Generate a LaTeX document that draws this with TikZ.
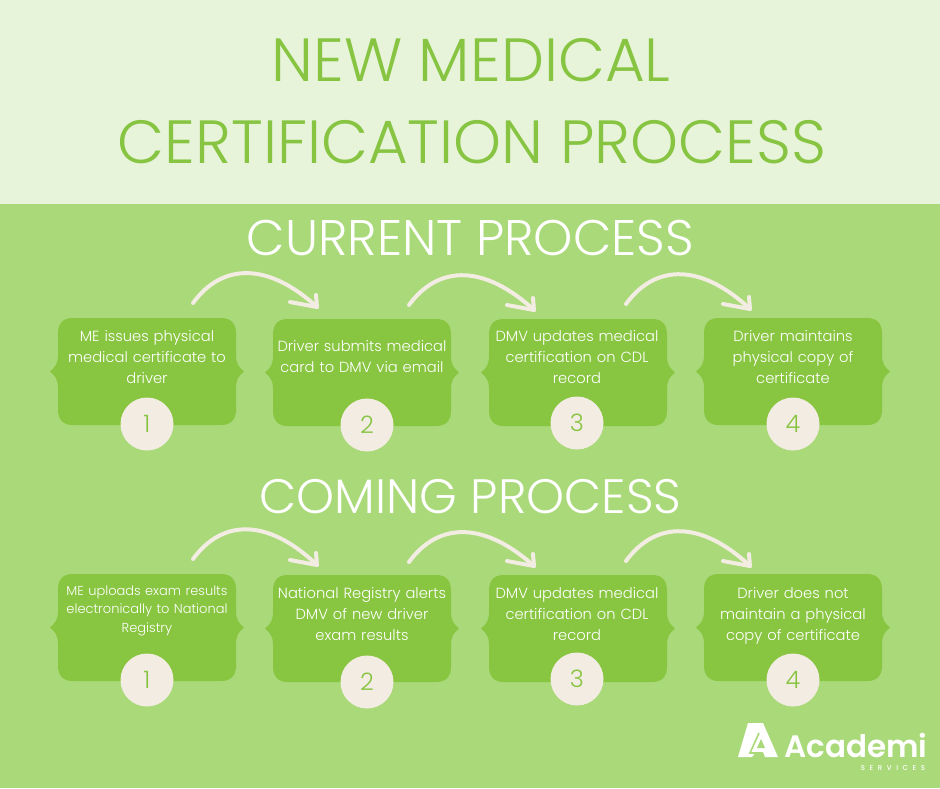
\documentclass[tikz,border=0pt]{standalone}
\usepackage{fontspec}
\setmainfont{Poppins Light}
\newfontfamily\logofont{Poppins SemiBold}
\newfontfamily\logosmall[LetterSpace=65]{Poppins Medium}
\usetikzlibrary{calc}
\definecolor{pale}{HTML}{E7F4D9}
\definecolor{midg}{HTML}{A9D979}
\definecolor{boxg}{HTML}{88C540}
\definecolor{titleg}{HTML}{86C441}
\definecolor{cream}{HTML}{F3ECE2}
\tikzset{
  stepshape/.style={fill=boxg,draw=none},
  steptext/.style={text=white,font=\fontsize{14.7}{21}\selectfont,align=center,text width=176pt,inner sep=0pt},
  numdisc/.style={circle,fill=cream,minimum size=53pt,inner sep=0pt,text=titleg,font=\fontsize{24}{26}\selectfont},
  heading/.style={text=white,inner sep=0pt},
  bigtitle/.style={text=titleg,font=\fontsize{61}{64}\selectfont,inner sep=0pt},
  flow/.style={draw=cream,line width=4pt,line cap=round,line join=round},
}
\newcommand{\stepcard}[6]{%
  \begin{scope}[shift={(#2,#3)}]
    \path[stepshape] (-74,-53.5) -- (74,-53.5)
      .. controls (84,-53.5) and (89,-48) .. (89,-38)
      -- (89,-16) .. controls (89,-8) and (92,-4) .. (97,0)
      .. controls (92,4) and (89,8) .. (89,16)
      -- (89,38) .. controls (89,48) and (84,53.5) .. (74,53.5)
      -- (-74,53.5) .. controls (-84,53.5) and (-89,48) .. (-89,38)
      -- (-89,16) .. controls (-89,8) and (-92,4) .. (-97,0)
      .. controls (-92,-4) and (-89,-8) .. (-89,-16)
      -- (-89,-38) .. controls (-89,-48) and (-84,-53.5) .. (-74,-53.5) -- cycle;
  \end{scope}
  \node[numdisc] (#1) at (#5,#6) {#4};
}
\newcommand{\flowarrow}[2]{%
  \draw[flow] (#1) .. controls ($(#1)+(30,-41)$) and ($(#1)+(76,-40)$) .. (#2);
  \draw[flow] ($(#2)+(-27,-5)$) -- (#2) -- ($(#2)+(-1,-12)$);
}
\begin{document}
\begin{tikzpicture}[x=1pt,y=-1pt]
\useasboundingbox (0,0) rectangle (940,788);
\fill[midg] (0,0) rectangle (940,788);
\fill[pale] (0,0) rectangle (940,204);
\node[bigtitle] (t1) at (471,60) {NEW MEDICAL};
\node[bigtitle] (t2) at (472,142) {CERTIFICATION PROCESS};
\node[heading,font=\fontsize{50}{52}\selectfont] (h1) at (470.5,238) {CURRENT PROCESS};
\node[heading,font=\fontsize{48.3}{52}\selectfont] (h2) at (470.5,497) {COMING PROCESS};

\stepcard{a}{147}{371.5}{1}{147}{424}
\stepcard{b}{362}{372.5}{2}{367}{425}
\stepcard{c}{578}{372.5}{3}{577}{423}
\stepcard{d}{793}{371.5}{4}{793}{424}
\stepcard{e}{147}{627.5}{1}{147}{680}
\stepcard{f}{362}{628.5}{2}{367}{682}
\stepcard{g}{578}{628.5}{3}{577}{679}
\stepcard{k}{793}{627.5}{4}{793}{680}

\node[steptext] (at) at (147,357) {ME issues physical\\medical certificate to\\driver};
\node[steptext] (bt) at (362,357) {Driver submits medical\\card to DMV via email};
\node[steptext] (ct) at (577,357) {DMV updates medical\\certification on CDL\\record};
\node[steptext] (dt) at (793,357) {Driver maintains\\physical copy of\\certificate};
\node[steptext,font=\fontsize{13}{18.5}\selectfont] (et) at (147,610.5) {ME uploads exam results\\electronically to National\\Registry};
\node[steptext] (ft) at (362,614) {National Registry alerts\\DMV of new driver\\exam results};
\node[steptext] (gt) at (577,614) {DMV updates medical\\certification on CDL\\record};
\node[steptext] (kt) at (793,616) {Driver does not\\maintain a physical\\copy of certificate};

\coordinate (s1) at (193,303); \coordinate (e1) at (317,307);
\coordinate (s2) at (409,305); \coordinate (e2) at (534,310);
\coordinate (s3) at (626,304); \coordinate (e3) at (750,309);
\coordinate (s4) at (193,559); \coordinate (e4) at (317,565);
\coordinate (s5) at (409,562); \coordinate (e5) at (534,566);
\coordinate (s6) at (626,561); \coordinate (e6) at (750,566);
\flowarrow{s1}{e1}\flowarrow{s2}{e2}\flowarrow{s3}{e3}
\flowarrow{s4}{e4}\flowarrow{s5}{e5}\flowarrow{s6}{e6}

% logo mark
\fill[white] (748,723) -- (763,723) -- (778,757) -- (765,757) -- (763,752) -- (756,752) -- (752,757) -- (738,757) -- cycle;
\fill[midg] (761,739) -- (765,748) -- (757,748) -- cycle;
\draw[midg,line width=1.6pt] (759,733) -- (750,753) -- (762,753);
\node[text=white,font=\logofont\fontsize{31}{35}\selectfont,inner sep=0pt,anchor=base west] (logo) at (784,757) {Academi};
\node[text=white,font=\logosmall\fontsize{7}{9}\selectfont,inner sep=0pt] (logo2) at (893,768) {SERVICES};
\end{tikzpicture}
\end{document}
